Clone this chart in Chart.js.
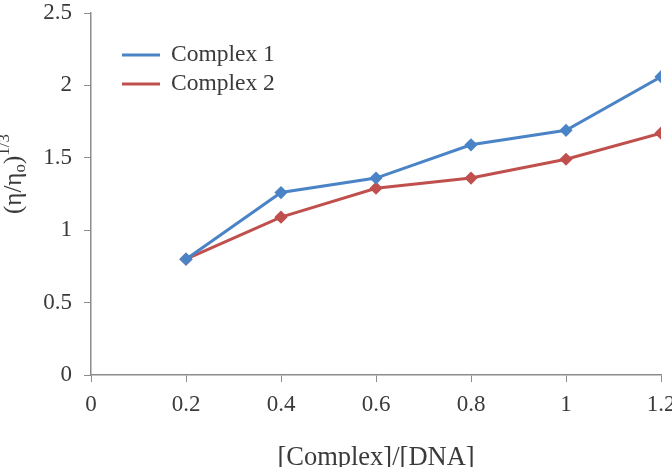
<!DOCTYPE html>
<html>
<head>
<meta charset="utf-8">
<script src="https://cdn.jsdelivr.net/npm/chart.js@4.4.1/dist/chart.umd.min.js"></script>
<style>
  html, body { margin: 0; padding: 0; background: #fff; }
  #wrap { width: 672px; height: 467px; }
</style>
</head>
<body>
<div id="wrap"><canvas id="chart-viscosity"></canvas></div>
<script>
const ratios = [0.2, 0.4, 0.6, 0.8, 1.0, 1.2];
const complex1 = [0.80, 1.26, 1.36, 1.59, 1.69, 2.06];
const complex2 = [0.80, 1.09, 1.29, 1.36, 1.49, 1.67];
const seriesNames = ["Complex 1", "Complex 2"];
const xTicks = [0, 0.2, 0.4, 0.6, 0.8, 1, 1.2];
const yTicks = [0, 0.5, 1, 1.5, 2, 2.5];

const SERIF = "'Liberation Serif', 'Times New Roman', serif";
const TEXT = "#3a3a3a";
const AXIS = "#8c8c8c";

function toPoints(values) {
  return ratios.map((x, i) => ({ x: x, y: values[i] }));
}

// legend inside the plot, top-left
const insideLegend = {
  id: "insideLegend",
  afterDraw(chart) {
    const ctx = chart.ctx;
    ctx.save();
    chart.data.datasets.forEach((ds, i) => {
      const y = 55 + i * 29;
      ctx.strokeStyle = ds.borderColor;
      ctx.lineWidth = 3;
      ctx.beginPath();
      ctx.moveTo(122, y);
      ctx.lineTo(160, y);
      ctx.stroke();
      ctx.fillStyle = TEXT;
      ctx.font = "23.5px " + SERIF;
      ctx.textBaseline = "middle";
      ctx.fillText(ds.label, 171, y);
    });
    ctx.restore();
  },
};

// y title (η/ηo)^1/3 with sub/superscript
const yTitle = {
  id: "yTitle",
  afterDraw(chart) {
    const ctx = chart.ctx;
    ctx.save();
    ctx.translate(14, 214);
    ctx.rotate(-Math.PI / 2);
    ctx.fillStyle = TEXT;
    ctx.textBaseline = "middle";
    let x = 0;
    ctx.font = "25px " + SERIF;
    ctx.fillText("(η/η", x, 0);
    x += ctx.measureText("(η/η").width;
    ctx.font = "17px " + SERIF;
    ctx.fillText("o", x, 7);
    x += ctx.measureText("o").width;
    ctx.font = "25px " + SERIF;
    ctx.fillText(")", x, 0);
    x += ctx.measureText(")").width;
    ctx.font = "17px " + SERIF;
    ctx.fillText("1/3", x, -9);
    ctx.restore();
  },
};

new Chart(document.getElementById("chart-viscosity"), {
  type: "line",
  data: {
    datasets: [
      {
        label: seriesNames[0],
        data: toPoints(complex1),
        borderColor: "#4a84c6",
        backgroundColor: "#4a84c6",
        borderWidth: 3,
        pointStyle: "rectRot",
        pointRadius: 4.5,
        tension: 0,
        fill: false,
      },
      {
        label: seriesNames[1],
        data: toPoints(complex2),
        borderColor: "#c0504d",
        backgroundColor: "#c0504d",
        borderWidth: 3,
        pointStyle: "rectRot",
        pointRadius: 4.5,
        tension: 0,
        fill: false,
      },
    ],
  },
  options: {
    responsive: true,
    maintainAspectRatio: false,
    animation: false,
    layout: { padding: { left: 0, right: 11, top: 13, bottom: 0 } },
    plugins: {
      legend: { display: false },
      tooltip: { enabled: false },
    },
    scales: {
      x: {
        type: "linear",
        min: 0,
        max: 1.2,
        afterBuildTicks: (s) => { s.ticks = xTicks.map((v) => ({ value: v })); },
        afterFit: (s) => { s.height = 92; s.paddingLeft = 0; s.paddingRight = 0; },
        grid: { drawOnChartArea: false, drawTicks: true, tickLength: 7, color: AXIS },
        border: { color: AXIS, width: 1.5 },
        ticks: {
          color: TEXT,
          padding: 9,
          maxRotation: 0,
          font: { family: SERIF, size: 23 },
          callback: (v) => String(Math.round(v * 10) / 10),
        },
        title: {
          display: true,
          text: "[Complex]/[DNA]",
          color: TEXT,
          font: { family: SERIF, size: 26.5, lineHeight: 1 },
          padding: { top: 0, bottom: -4 },
        },
      },
      y: {
        min: 0,
        max: 2.5,
        afterBuildTicks: (s) => { s.ticks = yTicks.map((v) => ({ value: v })); },
        afterFit: (s) => { s.width = 91; s.paddingTop = 0; s.paddingBottom = 0; },
        grid: { drawOnChartArea: false, drawTicks: true, tickLength: 7, color: AXIS },
        border: { color: AXIS, width: 1.5 },
        ticks: {
          color: TEXT,
          padding: 12,
          font: { family: SERIF, size: 23 },
          callback: (v) => String(v),
        },
      },
    },
  },
  plugins: [insideLegend, yTitle],
});
</script>
</body>
</html>
